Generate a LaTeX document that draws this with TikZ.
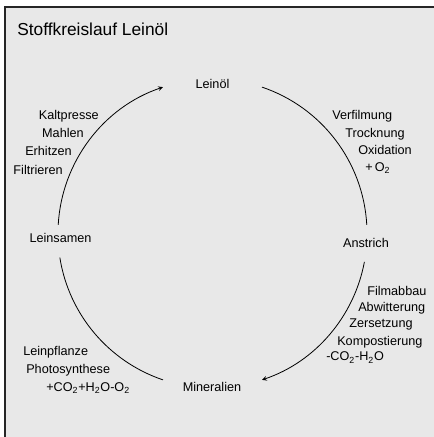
\documentclass[tikz,border=0pt]{standalone}
\usepackage{fontspec}
\setmainfont{Liberation Sans}
\usetikzlibrary{calc}
\tikzset{
  lbl/.style={inner sep=0pt,font=\fontsize{9.5}{11}\selectfont},
  cyc/.style={line width=0.6pt},
}
\begin{document}
\begin{tikzpicture}[x=0.75pt,y=0.75pt]
	    \useasboundingbox (0,0) rectangle (434,437);
	    \fill[gray!18](5,0) rectangle (434,430);
	    \draw[line width=1.3pt,black!85](5,0)--(5,430)--(434,430);
	    \node[anchor=base west,inner sep=0pt,font=\fontsize{13}{15}\selectfont] (title) at (17,402) {Stoffkreislauf Leinöl};
	    % circle
	    \coordinate (c) at (212.5,203.5);
	    \coordinate (a1) at ($(c)+(176.8:115.9pt)$);
	    \coordinate (a2) at ($(c)+(71.3:115.9pt)$);
	    \coordinate (a3) at ($(c)+(-10.6:115.9pt)$);
	    \coordinate (a4) at ($(c)+(-108.7:115.9pt)$);
	    \draw[cyc,-stealth](a1) arc[start angle=176.8,end angle=108.7,radius=115.9pt];
	    \draw[cyc](a2) arc[start angle=71.3,end angle=3.2,radius=115.9pt];
	    \draw[cyc,-stealth](a3) arc[start angle=-10.6,end angle=-71.3,radius=115.9pt];
	    \draw[cyc](a4) arc[start angle=-108.7,end angle=-171,radius=115.9pt];
	    % stations
	    \node[lbl,anchor=base] (oel) at (212.5,349) {Leinöl};
	    \node[lbl,anchor=base] (samen) at (60.5,194.5) {Leinsamen};
	    \node[lbl,anchor=base] (anstrich) at (366,189.5) {Anstrich};
	    \node[lbl,anchor=base] (mineral) at (212,45.5) {Mineralien};
	    % processes
	    \node[lbl,anchor=base east] (kalt) at (99,317.5) {Kaltpresse};
	    \node[lbl,anchor=base east] (mahl) at (84,299.5) {Mahlen};
	    \node[lbl,anchor=base east] (erh) at (72,281.5) {Erhitzen};
	    \node[lbl,anchor=base east] (filt) at (63,262.5) {Filtrieren};
	    \node[lbl,anchor=base west] (verf) at (332,317.5) {Verfilmung};
	    \node[lbl,anchor=base west] (trock) at (345,299.5) {Trocknung};
	    \node[lbl,anchor=base west] (oxi) at (358,282.5) {Oxidation};
	    \node[lbl,anchor=base west] (otwo) at (365,265.5) {+\,O\textsubscript{2}};
	    \node[lbl,anchor=base west] (abbau) at (367,141.5) {Filmabbau};
	    \node[lbl,anchor=base west] (abw) at (358,125.5) {Abwitterung};
	    \node[lbl,anchor=base west] (zers) at (349,109.5) {Zersetzung};
	    \node[lbl,anchor=base west] (komp) at (337,92) {Kompostierung};
	    \node[lbl,anchor=base west] (minus) at (326,76) {-CO\textsubscript{2}-H\textsubscript{2}O};
	    \node[lbl,anchor=base west] (pflanze) at (23,81.5) {Leinpflanze};
	    \node[lbl,anchor=base west] (photo) at (26,63.5) {Photosynthese};
	    \node[lbl,anchor=base west] (plus) at (46,45.5) {+CO\textsubscript{2}+H\textsubscript{2}O-O\textsubscript{2}};
	\end{tikzpicture}
\end{document}
